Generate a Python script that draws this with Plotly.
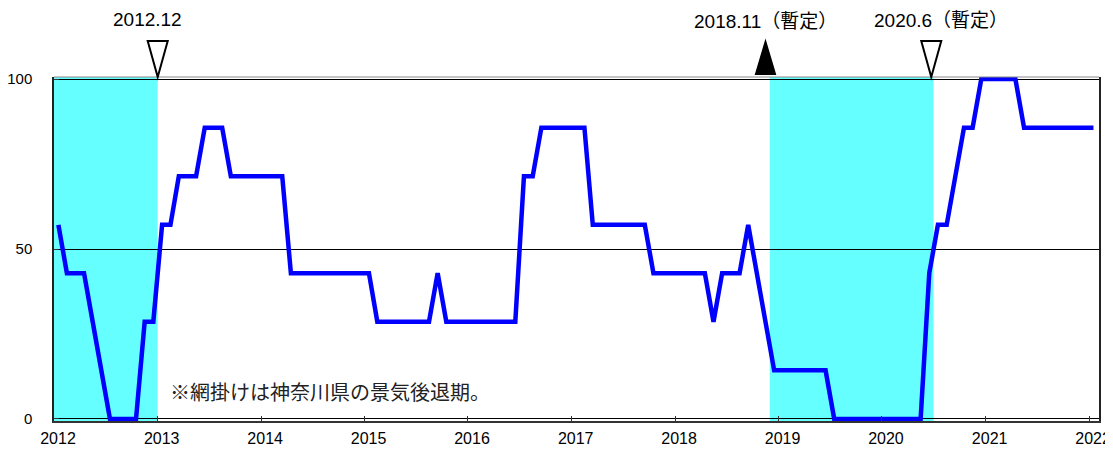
import plotly.graph_objects as go

# ---- data ----
months = [f"{y}-{m:02d}" for y in range(2012, 2023) for m in range(1, 13)][:121]
di_values = [
    57.1, 42.9, 42.9, 42.9, 28.6, 14.3, 0.0, 0.0, 0.0, 0.0, 28.6, 28.6,          # 2012
    57.1, 57.1, 71.4, 71.4, 71.4, 85.7, 85.7, 85.7, 71.4, 71.4, 71.4, 71.4,      # 2013
    71.4, 71.4, 71.4, 42.9, 42.9, 42.9, 42.9, 42.9, 42.9, 42.9, 42.9, 42.9,      # 2014
    42.9, 28.6, 28.6, 28.6, 28.6, 28.6, 28.6, 28.6, 42.9, 28.6, 28.6, 28.6,      # 2015
    28.6, 28.6, 28.6, 28.6, 28.6, 28.6, 71.4, 71.4, 85.7, 85.7, 85.7, 85.7,      # 2016
    85.7, 85.7, 57.1, 57.1, 57.1, 57.1, 57.1, 57.1, 57.1, 42.9, 42.9, 42.9,      # 2017
    42.9, 42.9, 42.9, 42.9, 28.6, 42.9, 42.9, 42.9, 57.1, 42.9, 28.6, 14.3,      # 2018
    14.3, 14.3, 14.3, 14.3, 14.3, 14.3, 0.0, 0.0, 0.0, 0.0, 0.0, 0.0,            # 2019
    0.0, 0.0, 0.0, 0.0, 0.0, 42.9, 57.1, 57.1, 71.4, 85.7, 85.7, 100.0,          # 2020
    100.0, 100.0, 100.0, 100.0, 85.7, 85.7, 85.7, 85.7, 85.7, 85.7, 85.7, 85.7,  # 2021
    85.7,                                                                         # 2022
]
# recession (shaded) periods: start of first month -> start of month after last
recession_start = ["2012-01-01", "2018-12-01"]
recession_end = ["2013-01-01", "2020-07-01"]

# turning points: position, kind, label
turn_dates = ["2013-01-01", "2018-11-16", "2020-06-23"]
turn_kinds = ["trough", "peak", "trough"]
turn_labels = ["2012.12", "2018.11（暫定）", "2020.6（暫定）"]
turn_label_shift = [-10, 0, 10]
turn_label_ypx = [19, 20.5, 19.5]   # label centre, px from top of image

year_ticks = [f"{y}-01-01" for y in range(2012, 2023)]
year_labels = [str(y) for y in range(2012, 2023)]
y_ticks = [0, 50, 100]

note_text = "※網掛けは神奈川県の景気後退期。"

# page body has an 8px margin; size the figure so the plot area lands where wanted
PAGE_OFF = 8
PLOT_TOP, PLOT_H = 77, 344

fig = go.Figure()
fig.add_trace(go.Scatter(
    x=months, y=di_values, mode="lines",
    xperiod="M1", xperiodalignment="middle",
    line=dict(color="#0000FF", width=4.5),
    hoverinfo="skip", showlegend=False,
))

shapes = []
for s, e in zip(recession_start, recession_end):
    shapes.append(dict(type="rect", xref="x", yref="paper", x0=s, x1=e, y0=0, y1=1,
                       fillcolor="#66FFFF", line=dict(width=0), layer="below"))
# top border
shapes.append(dict(type="line", xref="paper", yref="paper", x0=0, x1=1, y0=1, y1=1,
                   line=dict(color="#8a8a8a", width=1.2), layer="above"))

annotations = []
for d, k, lab, sh, ypx in zip(turn_dates, turn_kinds, turn_labels, turn_label_shift, turn_label_ypx):
    if k == "trough":
        path = "M -10,36 L 10,36 L 0,0 Z"
        fill = "white"
    else:
        path = "M -9.5,3 L 9.5,3 L 0,35 Z"
        fill = "black"
    shapes.append(dict(type="path", xref="x", yref="paper", xsizemode="pixel",
                       ysizemode="pixel", xanchor=d, yanchor=1, path=path,
                       fillcolor=fill, line=dict(color="black", width=2), layer="above"))
    annotations.append(dict(x=d, xref="x", y=1 + (PLOT_TOP - ypx) / PLOT_H, yref="paper",
                            text=lab, showarrow=False, xshift=sh, height=20, valign="middle",
                            xanchor="center", yanchor="middle",
                            font=dict(family="Liberation Sans, Noto Sans CJK JP", size=19,
                                      color="black")))

annotations.append(dict(x=(168 - 54) / 1045, y=(421 - 391) / PLOT_H, xref="paper", yref="paper",
                        text=note_text, showarrow=False, xanchor="left", yanchor="middle",
                        font=dict(family="Noto Sans CJK JP", size=20, color="#222222")))

fig.update_layout(
    width=1113 - PAGE_OFF, height=450 - PAGE_OFF,
    margin=dict(l=54 - PAGE_OFF, r=14, t=PLOT_TOP - PAGE_OFF, b=29, autoexpand=False),
    paper_bgcolor="white", plot_bgcolor="white",
    shapes=shapes, annotations=annotations,
    xaxis=dict(
        type="date", range=["2012-01-01", "2022-02-05"],
        tickvals=year_ticks, ticktext=year_labels,
        ticks="inside", ticklen=5, tickcolor="#333333", tickwidth=1,
        showline=True, linecolor="#333333", linewidth=1.5,
        showgrid=False, zeroline=False, automargin=False,
        tickfont=dict(family="Liberation Sans", size=16, color="black"),
        ticklabelstandoff=2, ticklabelshift=4,
    ),
    yaxis=dict(
        range=[-0.6, 100.6],
        tickvals=y_ticks, ticktext=[str(v) for v in y_ticks],
        ticks="inside", ticklen=5, tickcolor="#333333",
        showline=True, mirror=True, linecolor="#222222", linewidth=1.5,
        showgrid=True, gridcolor="black", gridwidth=1, zeroline=False, automargin=False,
        tickfont=dict(family="Liberation Sans", size=15, color="black"),
        ticklabelstandoff=17,
    ),
)

fig.write_html("out.html")
